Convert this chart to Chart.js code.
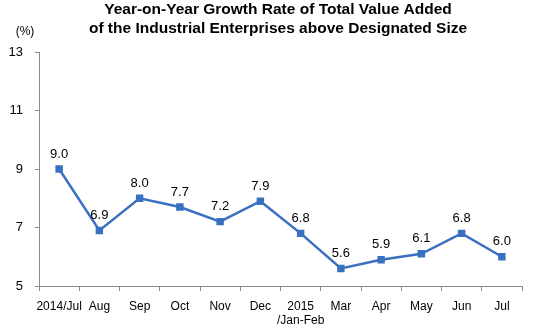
<!DOCTYPE html>
<html>
<head>
<meta charset="utf-8">
<script src="https://cdn.jsdelivr.net/npm/chart.js@4.4.1/dist/chart.umd.min.js"></script>
<style>
    html, body { margin: 0; padding: 0; background: #fff; }
    #wrap { width: 536px; height: 329px; position: relative; }
</style>
</head>
<body>
<div id="wrap"><canvas id="growthChart" width="536" height="329"></canvas></div>
<script>
// ========== 数据 ==========
const months = ['2014/Jul', 'Aug', 'Sep', 'Oct', 'Nov', 'Dec', ['2015', '/Jan-Feb'], 'Mar', 'Apr', 'May', 'Jun', 'Jul'];
const growthRate = [9.0, 6.9, 8.0, 7.7, 7.2, 7.9, 6.8, 5.6, 5.9, 6.1, 6.8, 6.0];
const yTicks = [5, 7, 9, 11, 13];
const titleLines = ['Year-on-Year Growth Rate of Total Value Added', 'of the Industrial Enterprises above Designated Size'];

const FONT = '"Liberation Sans", Arial, sans-serif';
const LINE_COLOR = '#3a70c0';
const AXIS_COLOR = '#8c8c8c';

// 标题与单位
const titlePlugin = {
    id: 'titleText',
    afterDraw(chart) {
        const ctx = chart.ctx;
        ctx.save();
        ctx.fillStyle = '#000';
        ctx.textAlign = 'center';
        ctx.textBaseline = 'middle';
        ctx.font = 'bold 15.5px ' + FONT;
        ctx.fillText(titleLines[0], 278, 10);
        ctx.fillText(titleLines[1], 278, 29);
        ctx.font = '12px ' + FONT;
        ctx.fillText('(%)', 25, 32);
        ctx.restore();
    }
};

// 数据标签
const labelPlugin = {
    id: 'pointLabels',
    afterDatasetsDraw(chart) {
        const ctx = chart.ctx;
        const meta = chart.getDatasetMeta(0);
        ctx.save();
        ctx.fillStyle = '#000';
        ctx.textAlign = 'center';
        ctx.textBaseline = 'middle';
        ctx.font = '13px ' + FONT;
        meta.data.forEach((pt, i) => {
            ctx.fillText(growthRate[i].toFixed(1), pt.x, pt.y - 15);
        });
        ctx.restore();
    }
};

new Chart(document.getElementById('growthChart').getContext('2d'), {
    type: 'line',
    data: {
        labels: months,
        datasets: [{
            data: growthRate,
            borderColor: LINE_COLOR,
            backgroundColor: LINE_COLOR,
            borderWidth: 2.5,
            pointStyle: 'rect',
            pointRadius: 3.5,
            pointHoverRadius: 3.5,
            tension: 0
        }]
    },
    options: {
        responsive: false,
        animation: false,
        events: [],
        layout: { padding: { top: 52, right: 14, left: 0, bottom: 0 } },
        plugins: {
            legend: { display: false },
            tooltip: { enabled: false }
        },
        scales: {
            x: {
                offset: true,
                grid: { offset: true, drawOnChartArea: false, color: AXIS_COLOR, tickLength: 5 },
                border: { color: AXIS_COLOR, width: 1 },
                ticks: { color: '#000', font: { family: FONT, size: 12 }, maxRotation: 0, autoSkip: false, padding: 8 },
                afterFit(scale) { scale.height = 43; }
            },
            y: {
                min: 5,
                max: 13,
                afterBuildTicks(scale) { scale.ticks = yTicks.map(v => ({ value: v })); },
                grid: { drawOnChartArea: false, color: AXIS_COLOR, tickLength: 4 },
                border: { color: AXIS_COLOR, width: 1 },
                ticks: { color: '#000', font: { family: FONT, size: 13 }, padding: 12 },
                afterFit(scale) { scale.width = 39; }
            }
        }
    },
    plugins: [titlePlugin, labelPlugin]
});
</script>
</body>
</html>
